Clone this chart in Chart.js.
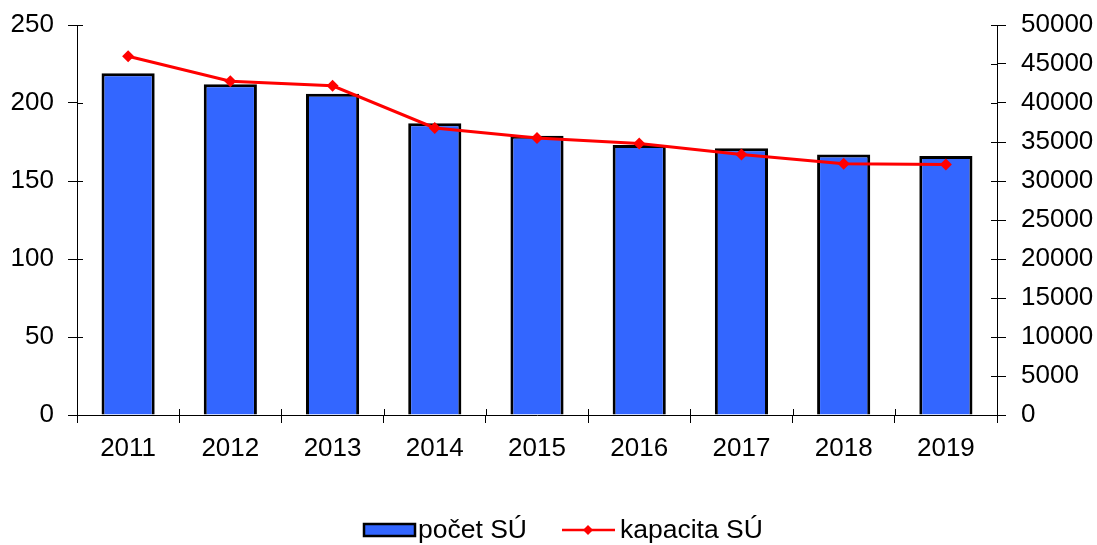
<!DOCTYPE html>
<html>
<head>
<meta charset="utf-8">
<script src="https://cdn.jsdelivr.net/npm/chart.js@4/dist/chart.umd.min.js"></script>
<style>
html,body{margin:0;padding:0;background:#fff;}
#wrap{width:1097px;height:545px;position:relative;}
</style>
</head>
<body>
<div id="wrap"><canvas id="c" width="1097" height="545"></canvas></div>
<script>
const years = ['2011','2012','2013','2014','2015','2016','2017','2018','2019'];
const pocetSU = [219, 212, 206, 187, 179, 173, 171, 167, 166];
const kapacitaSU = [46000, 42800, 42200, 36800, 35500, 34800, 33400, 32200, 32100];
const leftTicks = [0, 50, 100, 150, 200, 250];
const rightTicks = [0, 5000, 10000, 15000, 20000, 25000, 30000, 35000, 40000, 45000, 50000];
const seriesNames = ['počet SÚ', 'kapacita SÚ'];

const BAR_COLOR = '#3366FF';
const LINE_COLOR = '#FF0000';
const FONT = '"Liberation Sans", Arial, sans-serif';
const FS = 26;

Chart.defaults.font.family = FONT;
Chart.defaults.font.size = FS;
Chart.defaults.color = '#000';

const innerTicks = {
  id: 'innerTicks',
  afterDatasetsDraw(chart) {
    const ctx = chart.ctx;
    const a = chart.chartArea;
    ctx.save();
    ctx.strokeStyle = '#000';
    ctx.lineWidth = 1;
    const yl = chart.scales.yL, yr = chart.scales.yR, x = chart.scales.x;
    ctx.beginPath();
    yl.ticks.forEach(t => { const p = Math.round(yl.getPixelForValue(t.value)) + 0.5; ctx.moveTo(a.left, p); ctx.lineTo(a.left + 6, p); });
    yr.ticks.forEach(t => { const p = Math.round(yr.getPixelForValue(t.value)) + 0.5; ctx.moveTo(a.right, p); ctx.lineTo(a.right - 6, p); });
    const step = x.getPixelForValue(1) - x.getPixelForValue(0);
    for (let i = 0; i <= years.length; i++) {
      const p = Math.round(x.getPixelForValue(0) - step / 2 + i * step) + 0.5;
      ctx.moveTo(p, a.bottom); ctx.lineTo(p, a.bottom - 6);
    }
    ctx.stroke();
    ctx.restore();
  }
};

const customLegend = {
  id: 'customLegend',
  afterDraw(chart) {
    const ctx = chart.ctx;
    ctx.save();
    const cy = 530;
    ctx.font = '26.5px ' + FONT;
    ctx.textBaseline = 'middle';
    ctx.fillStyle = BAR_COLOR;
    ctx.fillRect(364, 524, 51, 12);
    ctx.strokeStyle = '#000';
    ctx.lineWidth = 2.5;
    ctx.strokeRect(364, 524, 51, 12);
    ctx.fillStyle = '#000';
    ctx.fillText(seriesNames[0], 418, cy + 1);
    ctx.strokeStyle = LINE_COLOR;
    ctx.lineWidth = 2.5;
    ctx.beginPath(); ctx.moveTo(562, cy); ctx.lineTo(615, cy); ctx.stroke();
    ctx.fillStyle = LINE_COLOR;
    ctx.beginPath(); ctx.moveTo(588, cy - 5); ctx.lineTo(593, cy); ctx.lineTo(588, cy + 5); ctx.lineTo(583, cy); ctx.closePath(); ctx.fill();
    ctx.fillStyle = '#000';
    ctx.fillText(seriesNames[1], 620, cy + 1);
    ctx.restore();
  }
};

new Chart(document.getElementById('c'), {
  data: {
    labels: years,
    datasets: [
      {
        type: 'line', label: seriesNames[1], data: kapacitaSU, yAxisID: 'yR', order: 0,
        borderColor: LINE_COLOR, borderWidth: 3, backgroundColor: LINE_COLOR,
        pointStyle: 'rectRot', pointRadius: 6, pointBorderWidth: 0, pointBackgroundColor: LINE_COLOR,
        tension: 0
      },
      {
        type: 'bar', label: seriesNames[0], data: pocetSU, yAxisID: 'yL', order: 1,
        backgroundColor: BAR_COLOR, borderColor: '#000', borderWidth: 3,
        categoryPercentage: 1, barPercentage: 0.52
      }
    ]
  },
  options: {
    responsive: false,
    animation: false,
    layout: { padding: { top: 25, bottom: 74, left: 0, right: 0 } },
    plugins: { legend: { display: false }, tooltip: { enabled: false } },
    scales: {
      x: {
        type: 'category',
        offset: true,
        grid: { display: true, drawOnChartArea: false, offset: true, color: '#000', tickLength: 8, tickColor: '#000' },
        border: { display: true, color: '#000', width: 1 },
        ticks: { padding: 10, color: '#000', font: { size: FS }, maxRotation: 0 },
        afterFit(s) { s.height = 56; s.paddingLeft = 0; s.paddingRight = 0; }
      },
      yL: {
        position: 'left', min: 0, max: 250,
        afterBuildTicks(s) { s.ticks = leftTicks.map(v => ({ value: v })); },
        grid: { display: true, drawOnChartArea: false, color: '#000', tickLength: 9 },
        border: { display: true, color: '#000', width: 1 },
        ticks: { padding: 14, color: '#000', font: { size: FS } },
        afterFit(s) { s.width = 77; s.paddingTop = 0; s.paddingBottom = 0; }
      },
      yR: {
        position: 'right', min: 0, max: 50000,
        afterBuildTicks(s) { s.ticks = rightTicks.map(v => ({ value: v })); },
        grid: { display: true, drawOnChartArea: false, color: '#000', tickLength: 9 },
        border: { display: true, color: '#000', width: 1 },
        ticks: { padding: 15, color: '#000', font: { size: FS }, callback: v => String(v) },
        afterFit(s) { s.width = 100; s.paddingTop = 0; s.paddingBottom = 0; }
      }
    }
  },
  plugins: [innerTicks, customLegend]
});
</script>
</body>
</html>
